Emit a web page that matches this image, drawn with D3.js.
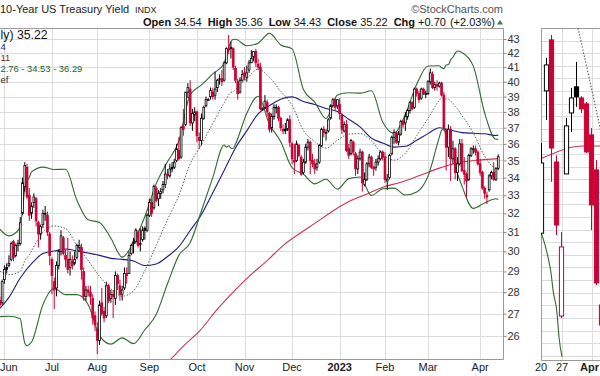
<!DOCTYPE html>
<html>
<head>
<meta charset="utf-8">
<script src="https://cdn.jsdelivr.net/npm/d3@7"></script>
<style>
  body { margin: 0; background: #fff; }
  svg { display: block; font-family: "Liberation Sans", Arial, sans-serif; }
</style>
</head>
<body>
<div id="chart"></div>
<script>
/* DATA : daily candles, May 27 2022 .. Apr 14 2023 (TNX x10) */
const open = [27.6,27.5,
  28.6,29.2,29.3,29.6,30.5,29.8,30.3,30.4,32.0,33.5,34.6,33.0,32.0,32.6,32.8,31.5,30.9,31.4,32.0,31.9,30.9,
  29.6,28.5,28.2,29.3,30.0,30.7,29.8,29.6,29.2,29.5,29.4,29.7,30.2,30.2,29.0,27.8,28.1,28.0,27.7,26.9,
  26.3,25.8,27.5,27.1,26.9,28.3,27.7,27.9,27.7,28.8,28.3,27.9,28.2,28.9,28.9,29.9,30.4,30.5,31.0,30.4,30.6,31.2,31.1,
  31.9,32.6,32.3,33.4,32.8,33.1,33.3,33.6,34.2,34.1,34.6,34.6,35.0,35.6,35.2,37.1,37.2,39.3,39.5,37.3,37.8,
  38.0,36.4,36.2,37.6,38.4,38.8,39.0,39.3,39.1,39.6,40.2,40.2,40.1,41.3,42.3,42.3,42.3,40.9,40.0,39.3,40.1,
  40.6,40.3,40.8,41.3,41.7,42.1,41.2,41.0,38.2,38.3,38.6,37.9,37.0,37.7,38.3,38.3,37.6,36.9,36.9,36.9,37.5,
  36.0,35.0,35.0,35.9,35.2,34.3,34.9,35.8,36.1,35.0,34.8,34.6,34.9,35.9,36.9,36.7,36.8,37.6,38.4,38.8,38.4,
  38.5,37.8,36.8,37.2,35.7,35.4,36.1,35.4,34.5,35.1,35.5,33.6,33.9,34.8,35.2,34.6,34.6,34.9,35.1,35.5,
  35.2,33.8,34.0,35.4,36.4,36.7,36.1,36.6,37.4,37.3,37.7,38.1,38.6,38.3,39.5,39.2,38.9,39.5,39.2,
  39.2,40.0,40.5,39.6,39.8,39.7,39.9,39.1,36.9,35.8,36.9,35.1,35.7,34.3,34.8,36.0,34.4,34.2,33.9,35.3,35.7,35.7,35.5,
  34.8,34.3,33.4,33.0,33.3,34.1,34.3,33.9,34.54];
const high = [27.8,28.6,
  29.3,29.4,29.8,30.5,30.6,30.4,30.6,31.8,34.0,34.9,34.8,33.4,32.6,33.1,32.9,31.6,31.4,32.2,32.4,32.1,31.0,
  29.7,28.7,29.5,30.1,31.1,30.8,30.1,30.7,30.0,29.8,30.0,30.4,30.6,30.4,29.2,28.3,28.3,28.3,27.9,27.1,
  26.6,27.6,28.2,27.3,28.5,28.4,28.1,28.1,29.0,28.9,28.6,28.3,29.2,29.2,30.0,30.4,30.7,31.2,31.1,31.2,31.3,31.3,32.0,
  32.8,32.8,33.6,33.5,33.3,33.4,33.8,34.8,34.5,34.8,34.9,35.1,36.0,36.4,37.1,38.2,39.3,39.9,40.1,38.2,38.3,
  38.1,36.7,37.9,38.4,39.0,38.9,39.6,39.6,40.7,40.2,40.5,40.8,41.4,42.4,43.3,42.8,42.4,41.1,40.2,40.3,40.8,
  41.0,41.1,41.5,42.2,42.1,42.3,41.6,41.3,38.3,39.1,38.8,38.0,37.9,38.5,38.5,38.4,37.7,37.2,37.3,37.6,37.8,
  36.1,36.0,36.2,36.0,35.3,35.1,36.0,36.3,36.2,35.4,35.1,35.1,36.0,37.0,37.1,36.9,37.6,38.5,38.9,38.9,38.8,
  38.9,37.9,37.4,37.5,36.0,36.3,36.2,35.5,35.3,35.7,35.6,34.3,34.9,35.4,35.3,34.7,35.1,35.3,35.6,35.6,
  35.5,34.2,35.4,36.5,36.9,36.8,36.8,37.5,37.5,38.0,38.2,38.7,38.7,39.6,39.6,39.4,39.6,39.6,39.4,
  40.1,40.9,40.7,40.0,40.1,40.0,40.0,39.3,36.9,37.2,37.1,36.2,35.8,35.2,36.3,36.3,35.2,34.3,35.4,35.8,35.9,35.9,35.6,
  35.1,34.4,33.5,33.2,34.2,34.4,34.9,34.6,35.36];
const low = [27.3,27.4,
  28.4,28.9,29.2,29.5,29.5,29.7,30.0,30.3,31.9,33.2,32.8,31.6,31.7,32.3,31.3,30.2,30.6,31.2,31.6,30.8,29.3,
  27.9,27.2,27.8,29.1,29.8,29.8,29.2,28.9,28.8,29.1,29.3,29.6,30.0,28.6,27.6,27.6,27.8,27.4,26.5,26.2,
  25.2,25.6,26.9,26.6,26.8,27.5,27.5,26.8,27.4,28.1,27.6,27.6,28.1,28.4,28.9,29.8,29.9,30.4,30.2,30.0,30.5,30.6,31.0,
  31.8,31.8,32.2,32.6,32.4,32.8,33.1,33.4,33.9,34.0,34.3,34.5,34.9,35.0,35.1,36.5,37.1,38.9,37.1,36.8,37.4,
  36.1,35.7,35.9,37.5,38.3,38.7,38.8,38.8,38.8,39.3,39.8,39.7,40.0,41.2,41.9,41.6,40.8,39.9,38.8,39.2,40.0,
  40.1,40.0,40.6,41.3,41.4,41.0,40.8,38.1,38.1,38.2,37.7,36.7,36.7,37.5,37.9,37.4,36.8,36.6,36.6,36.8,35.8,
  34.8,34.2,34.9,35.2,34.1,34.2,34.8,35.6,34.2,34.6,34.2,34.4,34.8,35.8,36.4,36.2,36.7,37.5,38.3,38.1,38.2,
  37.5,36.6,36.7,35.5,35.1,35.3,35.3,34.1,34.2,35.0,33.2,33.5,33.8,34.6,34.5,34.1,34.4,34.7,35.0,35.0,
  33.7,33.3,33.9,35.3,36.0,36.0,35.9,36.5,37.0,36.8,37.5,37.9,38.1,38.2,39.0,38.6,38.8,39.1,38.9,
  39.1,39.8,39.5,39.4,39.4,39.6,39.0,36.8,34.4,35.2,33.8,34.8,33.9,33.8,34.7,34.3,33.6,32.9,33.8,35.2,35.4,35.3,34.7,
  34.1,33.3,32.8,32.5,33.2,33.9,33.8,33.8,34.43];
const close = [27.4,28.5,
  29.1,29.1,29.4,30.4,29.7,30.3,30.4,31.5,33.7,34.7,32.9,31.9,32.4,32.9,31.6,30.9,31.3,32.0,32.0,31.0,29.8,
  28.8,28.1,29.3,30.0,30.8,29.9,29.6,29.1,29.6,29.3,29.6,30.3,30.3,29.1,27.8,28.1,28.0,27.8,26.8,26.5,
  25.8,27.4,27.0,26.8,28.3,27.6,27.9,27.8,28.8,28.4,27.9,28.1,28.9,28.8,29.8,30.3,30.5,31.1,30.3,30.4,31.1,31.1,31.9,
  32.6,32.0,33.5,32.7,33.1,33.2,33.6,34.2,34.1,34.5,34.5,34.9,35.7,35.1,37.0,36.9,39.3,39.6,37.3,37.9,38.0,
  36.5,36.2,37.6,38.3,38.8,38.8,39.4,39.0,39.5,40.1,40.2,40.0,41.3,42.3,42.2,42.4,41.0,40.1,39.2,40.1,40.5,
  40.4,40.6,41.3,41.6,42.1,41.3,41.0,38.2,38.2,38.7,38.0,36.9,37.7,38.3,38.3,37.6,37.0,36.8,36.8,37.5,36.1,
  35.1,34.9,36.0,35.3,34.2,34.9,35.8,36.1,35.0,34.8,34.5,34.8,35.9,36.9,36.7,36.7,37.5,38.4,38.8,38.3,38.8,
  37.9,36.9,37.2,35.6,35.3,36.2,35.5,34.5,35.1,35.5,33.7,33.9,34.8,35.2,34.6,34.5,34.9,35.1,35.5,35.2,
  33.9,33.9,35.3,36.4,36.7,36.1,36.6,37.4,37.2,37.7,38.1,38.6,38.2,39.5,39.2,38.8,39.5,39.2,39.2,
  40.0,40.6,39.6,39.8,39.7,39.9,39.1,37.0,35.8,36.9,35.1,35.7,34.3,34.8,36.0,34.4,34.2,33.8,35.3,35.7,35.7,35.5,34.8,
  34.3,33.4,33.1,32.9,34.1,34.3,33.9,34.52,35.22];

/* month ticks (candle index of first session) */
const monthIdx = [2, 23, 43, 66, 87, 108, 129, 150, 170, 189, 212];
const monthLabels = ["Jun", "Jul", "Aug", "Sep", "Oct", "Nov", "Dec", "2023", "Feb", "Mar", "Apr"];
const yTicks = [26, 27, 28, 29, 30, 31, 32, 33, 34, 35, 36, 37, 38, 39, 40, 41, 42, 43];
const yGrid = [25, 26, 27, 28, 29, 30, 31, 32, 33, 34, 35, 36, 37, 38, 39, 40, 41, 42, 43];

/* Bollinger Bands (20,2) */
const bbIdx = [0,4,9,10,11,12,13,14,19,24,29,34,39,44,49,54,59,64,69,74,79,84,89,94,99,100,101,102,103,104,
  109,114,119,124,129,134,139,144,149,154,159,164,169,174,179,184,189,194,195,196,197,198,199,200,201,202,204,209,214,219,220];
const bbUpper = [31.15,30.80,31.25,32.24,33.35,33.78,34.02,34.33,34.61,34.47,34.48,32.72,31.65,31.51,30.68,29.71,30.46,31.83,33.64,34.92,
  36.16,39.13,39.78,40.53,41.25,41.90,42.35,42.81,42.96,42.98,42.51,42.70,43.41,42.57,42.29,39.47,38.64,37.58,39.10,39.26,
  39.23,39.39,37.36,36.64,37.85,39.82,41.08,41.09,40.95,40.89,41.15,41.18,41.51,41.69,41.97,42.13,42.03,41.07,37.93,36.28,36.29];
const bbMid = [29.01,28.84,29.01,29.23,29.52,29.68,29.83,30.03,31.01,31.32,31.18,30.30,29.53,28.76,28.16,27.81,28.06,29.05,30.30,31.66,
  32.98,34.79,35.96,37.27,38.59,38.85,39.12,39.27,39.34,39.48,40.21,40.86,40.31,39.35,38.43,36.83,36.14,35.74,36.22,36.60,
  36.63,36.19,35.36,35.02,35.43,36.50,37.58,38.75,38.90,38.92,38.84,38.82,38.69,38.57,38.36,38.19,37.77,36.67,35.25,34.54,34.53];
const bbLower = [26.86,26.88,26.77,26.21,25.69,25.57,25.63,25.73,27.41,28.17,27.88,27.88,27.41,26.01,25.64,25.91,25.66,26.27,26.96,28.40,
  29.80,30.45,32.14,34.01,35.93,35.80,35.88,35.73,35.72,35.98,37.91,39.02,37.21,36.13,34.57,34.19,33.64,33.90,33.34,33.94,
  34.03,32.99,33.36,33.40,33.01,33.18,34.08,36.41,36.84,36.94,36.52,36.46,35.87,35.45,34.74,34.24,33.51,32.27,32.57,32.80,32.76];

/* moving averages */
const sma50Idx = [0,4,9,14,19,24,29,34,39,44,49,54,59,64,69,74,79,84,89,94,99,104,109,114,119,124,129,134,139,144,
  149,154,159,164,169,174,179,184,189,194,199,204,209,214,219,220];
const sma50 = [27.24,27.75,28.68,29.38,29.89,30.02,30.12,30.03,29.92,29.80,29.65,29.60,29.52,29.29,29.37,29.74,30.24,31.08,31.94,33.14,
  34.41,35.75,36.80,37.87,38.41,38.83,38.98,38.68,38.48,38.22,38.03,37.53,37.05,36.35,36.05,35.80,35.85,36.22,36.63,37.00,
  36.84,36.69,36.65,36.62,36.51,36.54];
const sma200Idx = [70,76,82,88,96,103,110,118,125,132,140,147,155,162,169,177,185,194,202,211,220];
const sma200 = [24.45,25.05,25.65,26.20,27.20,28.00,28.76,29.54,30.30,30.90,31.54,32.13,32.70,33.06,33.45,33.73,34.10,34.55,34.85,35.02,35.11];

/* right-hand panel (second chart, cropped) */
const sideOpen  = [34.72,46.01,50.06,40.37,28.15,39.42,44.26,46.33,45.45,44.98,42.52,39.74,29.02];
const sideHigh  = [41.88,48.63,50.45,40.90,34.80,43.87,46.25,48.31,45.60,45.13,43.07,40.53,29.02];
const sideLow   = [34.58,43.71,38.79,34.58,27.99,39.42,42.75,44.74,44.26,41.09,34.96,30.61,27.44];
const sideClose = [40.29,48.07,41.48,35.37,33.63,43.23,45.45,45.53,44.58,41.17,36.96,30.77,27.44];
const sideTickIdx = [-0.1, 4.1, 10.1];
const sideTickLabels = ["20", "27", "Apr"];
const sideMaIdx = [-0.3, 3.1, 6.3, 8.3, 11.7];
const sideMa = [40.60, 41.17, 41.56, 41.64, 41.64];
const sideBandIdx = [-0.3, 0.7, 1.3, 1.9, 2.3, 3.1, 3.5, 4.1];
const sideBand = [35.00, 33.79, 32.82, 31.58, 30.22, 28.40, 26.48, 24.90];
const sideMidIdx = [6.9, 9.5, 12.2];
const sideMid = [51.7, 47.1, 42.2];

/* legend rows as they show at the cropped left edge */
const legendText = ["ly) 35.22", "4", "11", "2.76 - 34.53 - 36.29", "ef"];
const legendColor = ["#111", "#1c1c80", "#8b1a2b", "#1f5f1f", "#222"];

/* LAYOUT */
const width = 600, height = 376;
const plot = { left: 0, right: 503, top: 28, bottom: 359 };
const side = { left: 541, right: 620, top: 28, bottom: 360 };
const red = "#cc0033";

const svg = d3.select("#chart").append("svg")
  .attr("width", width).attr("height", height);
svg.append("rect").attr("width", width).attr("height", height).attr("fill", "#fff");

/* SCALES */
const x = d3.scaleLinear().domain([0.06, 222.1]).range([plot.left, plot.right]);
const y = d3.scaleLog().domain([25.0, 43.81]).range([plot.bottom, plot.top]);
const sx = d3.scaleLinear().domain([0, 12]).range([541.5, 601.5]);
const sy = d3.scaleLinear().domain([24.66, 51.0]).range([side.bottom, side.top]);

const defs = svg.append("defs");
defs.append("clipPath").attr("id", "clipMain").append("rect")
  .attr("x", plot.left).attr("y", plot.top)
  .attr("width", plot.right - plot.left).attr("height", plot.bottom - plot.top);
defs.append("clipPath").attr("id", "clipSide").append("rect")
  .attr("x", side.left).attr("y", side.top)
  .attr("width", side.right - side.left).attr("height", side.bottom - side.top);

/* MAIN GRID */
const grid = svg.append("g").attr("stroke", "#dcdcdc").attr("stroke-width", 1);
grid.selectAll(".hg").data(yGrid).join("line")
  .attr("x1", plot.left).attr("x2", plot.right)
  .attr("y1", d => Math.round(y(d)) + 0.5).attr("y2", d => Math.round(y(d)) + 0.5);
grid.selectAll(".vg").data(monthIdx).join("line")
  .attr("x1", d => Math.round(x(d)) + 0.5).attr("x2", d => Math.round(x(d)) + 0.5)
  .attr("y1", plot.top).attr("y2", plot.bottom);

/* frame */
svg.append("path")
  .attr("d", `M${plot.left},${plot.top + 0.5}H${plot.right + 0.5}V${plot.bottom + 0.5}H${plot.left}`)
  .attr("fill", "none").attr("stroke", "#9a9a9a");

/* right axis */
const yAxis = d3.axisRight(y).tickValues(yTicks).tickSize(3).tickFormat(d3.format("d"));
const ya = svg.append("g").attr("transform", `translate(${plot.right + 0.5},0)`).call(yAxis);
ya.select(".domain").remove();
ya.selectAll("line").attr("stroke", "#888");
ya.selectAll("text").attr("x", 4).attr("font-size", 11)
  .attr("font-family", "Liberation Sans, Arial, sans-serif").attr("fill", "#333");

/* bottom month labels (first one kept inside the picture) */
svg.append("g").selectAll("text").data(monthIdx).join("text")
  .attr("x", (d, i) => i === 0 ? 0 : x(d)).attr("y", 371)
  .attr("text-anchor", (d, i) => i === 0 ? "start" : "middle")
  .attr("font-size", 11).attr("fill", "#222")
  .attr("font-weight", (d, i) => monthLabels[i] === "2023" ? "bold" : "normal")
  .text((d, i) => monthLabels[i]);

/* OVERLAYS */
const main = svg.append("g").attr("clip-path", "url(#clipMain)");
const line = d3.line().x(d => x(d[0])).y(d => y(d[1])).curve(d3.curveMonotoneX);

main.append("path").datum(d3.zip(sma200Idx, sma200)).attr("d", line)
  .attr("fill", "none").attr("stroke", "#cc3355").attr("stroke-width", 1.1);
main.append("path").datum(d3.zip(sma50Idx, sma50)).attr("d", line)
  .attr("fill", "none").attr("stroke", "#1c1c80").attr("stroke-width", 1.1);
main.append("path").datum(d3.zip(bbIdx, bbUpper)).attr("d", line)
  .attr("fill", "none").attr("stroke", "#2f6b2f").attr("stroke-width", 1.1);
main.append("path").datum(d3.zip(bbIdx, bbLower)).attr("d", line)
  .attr("fill", "none").attr("stroke", "#2f6b2f").attr("stroke-width", 1.1);
main.append("path").datum(d3.zip(bbIdx, bbMid)).attr("d", line)
  .attr("fill", "none").attr("stroke", "#4f6a4f").attr("stroke-width", 1)
  .attr("stroke-dasharray", "1.5,1.6");

/* CANDLES */
const candles = close.map((c, i) => ({
  i, o: open[i], h: high[i], l: low[i], c,
  col: (i > 0 ? c < close[i - 1] : c < open[i]) ? red : "#000"
}));
const cg = main.append("g");
cg.selectAll(".wick").data(candles).join("line")
  .attr("x1", d => x(d.i)).attr("x2", d => x(d.i))
  .attr("y1", d => y(d.h)).attr("y2", d => y(d.l))
  .attr("stroke", d => d.col).attr("stroke-width", 1);
cg.selectAll(".body").data(candles).join("rect")
  .attr("x", d => x(d.i) - 0.9).attr("width", 1.8)
  .attr("y", d => y(Math.max(d.o, d.c)))
  .attr("height", d => Math.max(0.8, Math.abs(y(d.o) - y(d.c))))
  .attr("fill", d => d.c < d.o ? d.col : "#fff")
  .attr("stroke", d => d.col).attr("stroke-width", 0.8);

/* LEGEND */
svg.append("g").selectAll("text").data(legendText).join("text")
  .attr("x", 0.5).attr("y", (d, i) => i === 0 ? 38.5 : 50 + (i - 1) * 11.1)
  .attr("font-size", (d, i) => i === 0 ? 12.3 : 9.4)
  .attr("fill", (d, i) => legendColor[i])
  .text(d => d);

/* HEADER */
svg.append("text").attr("x", 0).attr("y", 13).attr("font-size", 11).attr("fill", "#222")
  .text("10-Year US Treasury Yield");
svg.append("text").attr("x", 135).attr("y", 13).attr("font-size", 9).attr("fill", "#222")
  .text("INDX");
svg.append("text").attr("x", 503).attr("y", 13).attr("font-size", 11).attr("fill", "#555")
  .attr("text-anchor", "end").text("\u00A9StockCharts.com");

const quote = [
  ["Open", true, 0], ["34.54", false, 3], ["High", true, 6], ["35.36", false, 3],
  ["Low", true, 6], ["34.43", false, 3], ["Close", true, 6], ["35.22", false, 3],
  ["Chg", true, 6], ["+0.70", false, 3], ["(+2.03%)", false, 4]
];
const qt = svg.append("text").attr("x", 143).attr("y", 26).attr("font-size", 11).attr("fill", "#111");
quote.forEach(q => {
  qt.append("tspan").attr("dx", q[2]).attr("font-weight", q[1] ? "bold" : "normal").text(q[0]);
});
svg.append("path").attr("d", "M497,24.5L500,20L503,24.5Z").attr("fill", "#3d7a3d");

/* SIDE PANEL */
const sg = svg.append("g");
sg.append("g").attr("stroke", "#dcdcdc").selectAll("line").data(d3.range(25, 51)).join("line")
  .attr("x1", side.left).attr("x2", 600)
  .attr("y1", d => Math.round(sy(d)) + 0.5).attr("y2", d => Math.round(sy(d)) + 0.5);
sg.append("g").attr("stroke", "#dcdcdc").selectAll("line").data(sideTickIdx.slice(1)).join("line")
  .attr("x1", d => Math.round(sx(d)) + 0.5).attr("x2", d => Math.round(sx(d)) + 0.5)
  .attr("y1", side.top).attr("y2", side.bottom);
sg.append("path")
  .attr("d", `M600,${side.top + 0.5}H${side.left + 0.5}V${side.bottom + 0.5}H600`)
  .attr("fill", "none").attr("stroke", "#9a9a9a");
sg.selectAll(".slab").data(sideTickIdx).join("text")
  .attr("x", (d, i) => i === 2 ? 599 : sx(d)).attr("y", 371)
  .attr("text-anchor", (d, i) => i === 2 ? "end" : "middle")
  .attr("font-size", 11).attr("fill", "#222")
  .attr("font-weight", (d, i) => sideTickLabels[i] === "Apr" ? "bold" : "normal")
  .text((d, i) => sideTickLabels[i]);

const sc = sg.append("g").attr("clip-path", "url(#clipSide)");
const sline = d3.line().x(d => sx(d[0])).y(d => sy(d[1])).curve(d3.curveMonotoneX);
sc.append("path").datum(d3.zip(sideMaIdx, sideMa)).attr("d", sline)
  .attr("fill", "none").attr("stroke", "#cc3355").attr("stroke-width", 1.1);
sc.append("path").datum(d3.zip(sideBandIdx, sideBand)).attr("d", sline)
  .attr("fill", "none").attr("stroke", "#2f6b2f").attr("stroke-width", 1.1);
sc.append("path").datum(d3.zip(sideMidIdx, sideMid)).attr("d", sline)
  .attr("fill", "none").attr("stroke", "#4f6a4f").attr("stroke-width", 1.1)
  .attr("stroke-dasharray", "1.5,1.6");

const sCandles = sideClose.map((c, i) => ({
  i, o: sideOpen[i], h: sideHigh[i], l: sideLow[i], c,
  col: (i > 0 && c < sideClose[i - 1]) ? red : "#000"
}));
sc.selectAll(".swick").data(sCandles).join("line")
  .attr("x1", d => sx(d.i)).attr("x2", d => sx(d.i))
  .attr("y1", d => sy(d.h)).attr("y2", d => sy(d.l))
  .attr("stroke", d => d.col).attr("stroke-width", 1);
sc.selectAll(".sbody").data(sCandles).join("rect")
  .attr("x", d => sx(d.i) - 2.1).attr("width", 4.2)
  .attr("y", d => sy(Math.max(d.o, d.c)))
  .attr("height", d => Math.max(1, Math.abs(sy(d.o) - sy(d.c))))
  .attr("fill", d => d.c < d.o ? d.col : "#fff")
  .attr("stroke", d => d.col).attr("stroke-width", 1);
</script>
</body>
</html>
